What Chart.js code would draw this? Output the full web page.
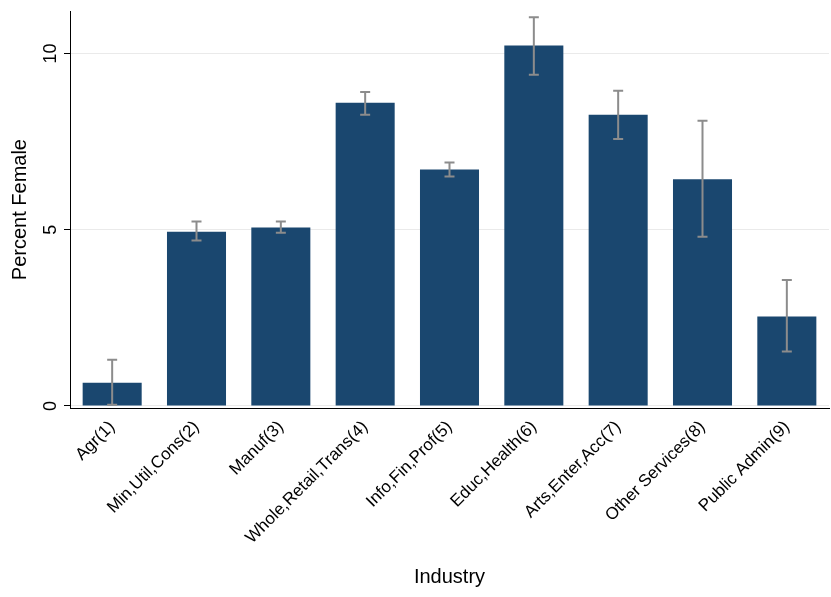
<!DOCTYPE html><html><head><script src="https://cdn.jsdelivr.net/npm/chart.js"></script>
<style>html,body{margin:0;background:#fff}#w{width:831px;height:597px}</style></head><body><div id="w"><canvas id="c"></canvas></div>
<script>
const categories=["Agr(1)","Min,Util,Cons(2)","Manuf(3)","Whole,Retail,Trans(4)","Info,Fin,Prof(5)","Educ,Health(6)","Arts,Enter,Acc(7)","Other Services(8)","Public Admin(9)"];
const values=[0.66,4.94,5.06,8.6,6.71,10.23,8.26,6.43,2.54];
const errLow=[0.03,4.69,4.91,8.26,6.51,9.4,7.57,4.8,1.54];
const errHigh=[1.31,5.23,5.23,8.91,6.91,11.03,8.94,8.09,3.57];
const yTicks=[0,5,10];
const errPlugin={id:'err',afterDatasetsDraw(ch){const c=ch.ctx,x=ch.scales.x,y=ch.scales.y;c.save();c.strokeStyle='#8c8c8c';c.lineWidth=2;
values.forEach((v,i)=>{const px=x.getPixelForValue(i),a=y.getPixelForValue(errLow[i]),b=y.getPixelForValue(errHigh[i]);c.beginPath();c.moveTo(px,a);c.lineTo(px,b);c.moveTo(px-5,a);c.lineTo(px+5,a);c.moveTo(px-5,b);c.lineTo(px+5,b);c.stroke();});
c.fillStyle='#000';c.font='18px "Liberation Sans", Arial';c.textAlign='center';c.textBaseline='bottom';
yTicks.forEach(t=>{const py=y.getPixelForValue(t);c.save();c.translate(y.right-10,py);c.rotate(-Math.PI/2);c.fillText(String(t),0,0);c.restore();});
c.restore();}};
new Chart(document.getElementById('c'),{type:'bar',data:{labels:categories,datasets:[{data:values,backgroundColor:'#1a476f',barPercentage:0.7,categoryPercentage:1}]},
options:{responsive:true,maintainAspectRatio:false,animation:false,layout:{padding:{top:0,right:2,left:8,bottom:4}},plugins:{legend:{display:false},tooltip:{enabled:false}},
scales:{y:{min:-0.06,max:11.2,afterBuildTicks(s){s.ticks=yTicks.map(v=>({value:v}));},afterFit(s){s.width=62;},ticks:{color:'rgba(0,0,0,0)',font:{size:12,family:'Liberation Sans'},padding:4},
grid:{color:'#eaeaea',lineWidth:1,tickColor:'#000',tickLength:6,drawTicks:true},border:{color:'#000',width:1},
title:{display:true,text:'Percent Female',font:{size:20,family:'Liberation Sans'},color:'#000',padding:0}},
x:{offset:true,afterFit(s){s.height=185;},ticks:{maxRotation:45,minRotation:45,color:'#000',font:{size:17,family:'Liberation Sans'}},grid:{display:false,drawTicks:true,tickLength:6},border:{color:'#000'},
title:{display:true,text:'Industry',font:{size:20,family:'Liberation Sans'},color:'#000',padding:{top:4}}}}},plugins:[errPlugin]});
</script></body></html>
